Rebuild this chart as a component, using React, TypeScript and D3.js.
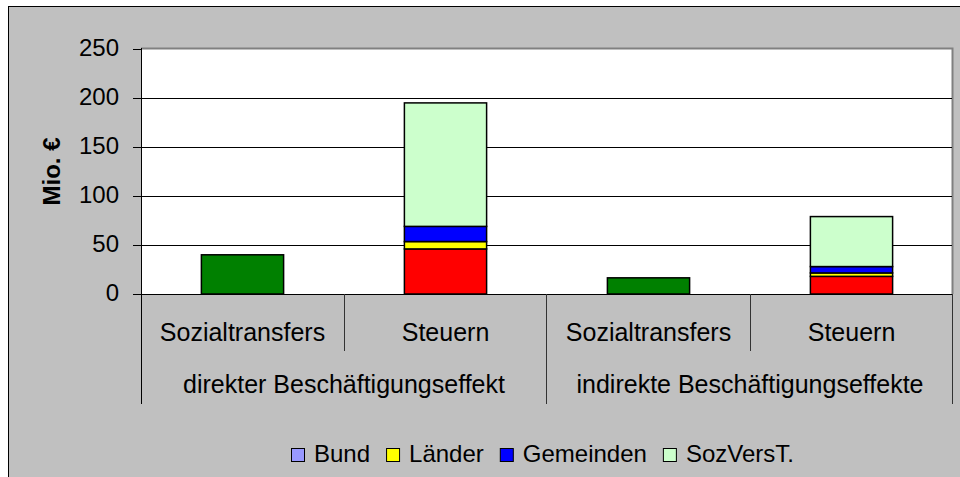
import React, { useEffect, useRef } from 'react';
import * as d3 from 'd3';

// Stacked bars, Excel 2003 look: grey chart area, two-level category axis.
// The first series ("Bund") keeps Excel's default colour in the legend, but its
// points were recoloured by hand (green for transfers, red for taxes).

const categories = ['Sozialtransfers', 'Steuern', 'Sozialtransfers', 'Steuern'];
const groups = ['direkter Beschäftigungseffekt', 'indirekte Beschäftigungseffekte'];
const groupOfCategory = [0, 0, 1, 1];

const seriesNames = ['Bund', 'Länder', 'Gemeinden', 'SozVersT.'];
const bund = [40, 46, 16.5, 18];
const laender = [0, 7.5, 0, 3.5];
const gemeinden = [0, 15.5, 0, 6.5];
const sozVersT = [0, 126, 0, 51];

const seriesColors = ['#9999FF', '#FFFF00', '#0000FF', '#CCFFCC'];
const bundPointColors = ['#008000', '#FF0000', '#008000', '#FF0000'];

const yTicks = [0, 50, 100, 150, 200, 250];
const yAxisTitle = 'Mio. €';

const W = 960;
const H = 477;
const PLOT_LEFT = 141;
const PLOT_RIGHT = 953;
const PLOT_TOP = 49;
const PLOT_BOTTOM = 294;
const FONT = '"Liberation Sans", Arial, sans-serif';

const App = () => {
  const svgRef = useRef<SVGSVGElement>(null);

  useEffect(() => {
    const svg = d3.select(svgRef.current);
    svg.selectAll('*').remove();

    const rows = categories.map((c, i) => ({
      i,
      Bund: bund[i],
      'Länder': laender[i],
      Gemeinden: gemeinden[i],
      'SozVersT.': sozVersT[i],
    }));
    const stacked = d3.stack<any>().keys(seriesNames)(rows);

    const x = d3
      .scaleBand<number>()
      .domain(categories.map((_, i) => i))
      .range([PLOT_LEFT, PLOT_RIGHT]);
    const xGroup = d3
      .scaleBand<number>()
      .domain(groups.map((_, i) => i))
      .range([PLOT_LEFT, PLOT_RIGHT]);
    const y = d3.scaleLinear().domain([0, 250]).range([PLOT_BOTTOM, PLOT_TOP]);
    const barW = x.bandwidth() * 0.405;

    // backgrounds
    svg.append('rect').attr('width', W).attr('height', H).attr('fill', '#fff');
    svg
      .append('rect')
      .attr('x', 8.5)
      .attr('y', 6.5)
      .attr('width', W)
      .attr('height', H)
      .attr('fill', '#C0C0C0')
      .attr('stroke', '#000');
    svg
      .append('rect')
      .attr('x', PLOT_LEFT)
      .attr('y', y(250) - 1)
      .attr('width', PLOT_RIGHT - PLOT_LEFT)
      .attr('height', PLOT_BOTTOM - y(250) + 1)
      .attr('fill', '#fff');

    // plot area frame (grey top and right)
    svg
      .append('path')
      .attr('d', `M${PLOT_LEFT},${y(250) - 0.5}H${PLOT_RIGHT - 0.5}V${PLOT_BOTTOM}`)
      .attr('fill', 'none')
      .attr('stroke', '#808080')
      .attr('stroke-width', 2);

    // gridlines
    svg
      .append('g')
      .selectAll('line')
      .data(yTicks.filter((t) => t > 0 && t < 250))
      .enter()
      .append('line')
      .attr('x1', PLOT_LEFT)
      .attr('x2', PLOT_RIGHT - 1)
      .attr('y1', (t) => Math.round(y(t)) + 0.5)
      .attr('y2', (t) => Math.round(y(t)) + 0.5)
      .attr('stroke', '#000');

    // stacked bars
    stacked.forEach((layer, si) => {
      svg
        .append('g')
        .selectAll('rect')
        .data(layer.filter((d) => d[1] - d[0] > 0))
        .enter()
        .append('rect')
        .attr('x', (d) => (x(d.data.i) as number) + (x.bandwidth() - barW) / 2)
        .attr('width', barW)
        .attr('y', (d) => y(d[1]))
        .attr('height', (d) => y(d[0]) - y(d[1]))
        .attr('fill', (d) => (si === 0 ? bundPointColors[d.data.i] : seriesColors[si]))
        .attr('stroke', '#000')
        .attr('stroke-width', 1.5);
    });

    // value axis
    svg
      .append('line')
      .attr('x1', PLOT_LEFT + 0.5)
      .attr('x2', PLOT_LEFT + 0.5)
      .attr('y1', y(250) - 1)
      .attr('y2', 404)
      .attr('stroke', '#000');
    const yt = svg.append('g').selectAll('g').data(yTicks).enter().append('g');
    yt.append('line')
      .attr('x1', 133)
      .attr('x2', PLOT_LEFT)
      .attr('y1', (t) => Math.round(y(t)) + 0.5)
      .attr('y2', (t) => Math.round(y(t)) + 0.5)
      .attr('stroke', '#000');
    yt.append('text')
      .attr('x', 119)
      .attr('y', (t) => y(t) + 6.5)
      .attr('text-anchor', 'end')
      .attr('font-family', FONT)
      .attr('font-size', '24px')
      .attr('fill', '#000')
      .text((t) => t);

    svg
      .append('text')
      .attr('transform', 'rotate(-90)')
      .attr('x', -(PLOT_TOP + PLOT_BOTTOM) / 2)
      .attr('y', 60)
      .attr('text-anchor', 'middle')
      .attr('font-family', FONT)
      .attr('font-size', '24px')
      .attr('font-weight', 'bold')
      .attr('fill', '#000')
      .text(yAxisTitle);

    // category axis, two levels
    svg
      .append('line')
      .attr('x1', PLOT_LEFT)
      .attr('x2', PLOT_RIGHT)
      .attr('y1', PLOT_BOTTOM + 0.5)
      .attr('y2', PLOT_BOTTOM + 0.5)
      .attr('stroke', '#000');

    const innerDividers = categories
      .map((_, i) => i)
      .filter((i) => i > 0 && groupOfCategory[i] === groupOfCategory[i - 1]);
    svg
      .append('g')
      .selectAll('line')
      .data(innerDividers)
      .enter()
      .append('line')
      .attr('x1', (i) => Math.round(x(i) as number) + 0.5)
      .attr('x2', (i) => Math.round(x(i) as number) + 0.5)
      .attr('y1', PLOT_BOTTOM)
      .attr('y2', 351)
      .attr('stroke', '#333');

    const groupEdges = [...groups.map((_, g) => xGroup(g) as number), PLOT_RIGHT];
    svg
      .append('g')
      .selectAll('line')
      .data(groupEdges.slice(1))
      .enter()
      .append('line')
      .attr('x1', (v) => Math.round(v) - 0.5)
      .attr('x2', (v) => Math.round(v) - 0.5)
      .attr('y1', PLOT_BOTTOM)
      .attr('y2', 404)
      .attr('stroke', '#333');

    svg
      .append('g')
      .selectAll('text')
      .data(categories)
      .enter()
      .append('text')
      .attr('x', (_, i) => (x(i) as number) + x.bandwidth() / 2)
      .attr('y', 340.5)
      .attr('text-anchor', 'middle')
      .attr('font-family', FONT)
      .attr('font-size', '25px')
      .attr('fill', '#000')
      .text((c) => c);

    svg
      .append('g')
      .selectAll('text')
      .data(groups)
      .enter()
      .append('text')
      .attr('x', (_, g) => (xGroup(g) as number) + xGroup.bandwidth() / 2)
      .attr('y', 393)
      .attr('text-anchor', 'middle')
      .attr('font-family', FONT)
      .attr('font-size', '25px')
      .attr('fill', '#000')
      .text((g) => g);

    // legend, laid out left to right then centred
    const legend = svg.append('g');
    let cursor = 0;
    seriesNames.forEach((name, si) => {
      legend
        .append('rect')
        .attr('x', cursor + 0.5)
        .attr('y', 448.5)
        .attr('width', 13)
        .attr('height', 13)
        .attr('fill', seriesColors[si])
        .attr('stroke', '#000');
      const t = legend
        .append('text')
        .attr('x', cursor + 23)
        .attr('y', 462)
        .attr('font-family', FONT)
        .attr('font-size', '24px')
        .attr('fill', '#000')
        .text(name);
      const len = (t.node() as SVGTextElement).getComputedTextLength();
      cursor += 23 + len + (si < seriesNames.length - 1 ? 16 : 0);
    });
    legend.attr('transform', `translate(${Math.round(542 - cursor / 2)},0)`);
  }, []);

  return (
    <svg
      ref={svgRef}
      width={W}
      height={H}
      style={{ position: 'absolute', left: 0, top: 0, display: 'block' }}
    />
  );
};

export default App;
